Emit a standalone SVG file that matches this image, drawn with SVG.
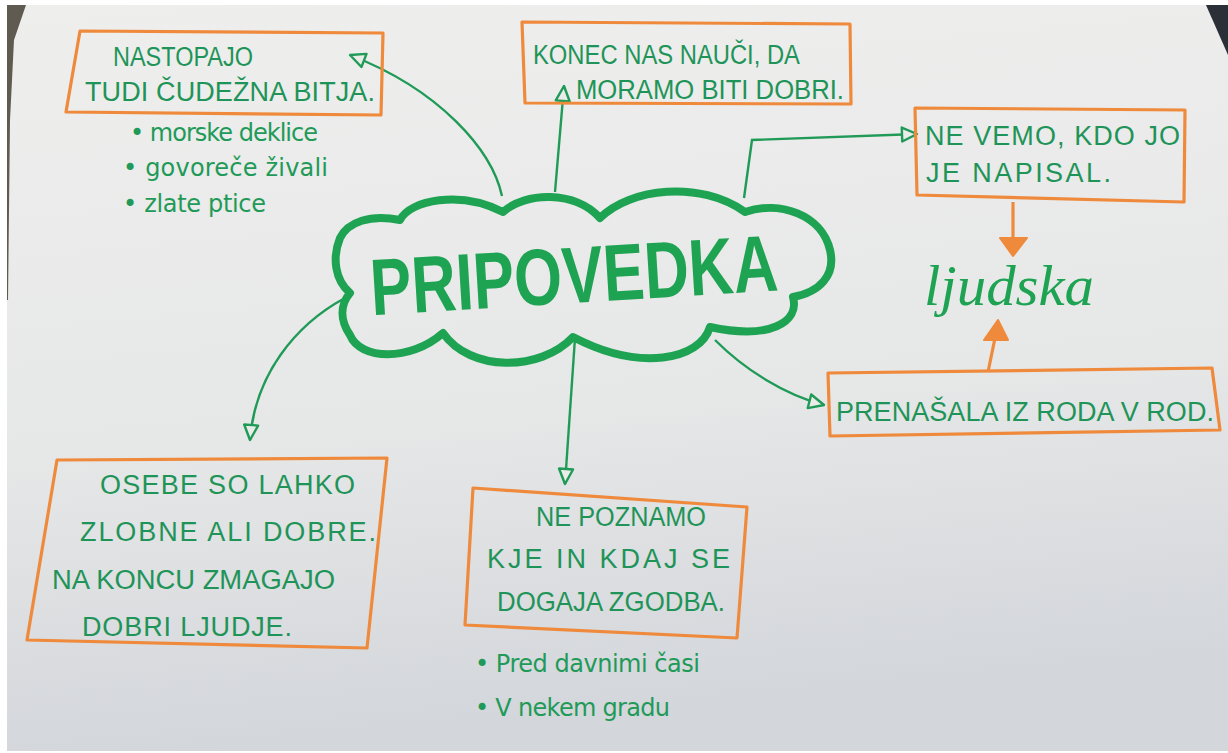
<svg xmlns="http://www.w3.org/2000/svg" width="1228" height="753" viewBox="0 0 1228 753">
<defs>
<linearGradient id="paper" x1="0" y1="0" x2="0.15" y2="1">
<stop offset="0" stop-color="#eeefed"/>
<stop offset="0.6" stop-color="#e6e7e7"/>
<stop offset="1" stop-color="#d3d6db"/>
</linearGradient>
<marker id="open" markerUnits="userSpaceOnUse" markerWidth="20" markerHeight="20" viewBox="-2 -2 20 18" refX="15" refY="7" orient="auto">
<path d="M0,0 L15,7 L0,14 Z" fill="#ebecea" stroke="#1f9a57" stroke-width="2.4" stroke-linejoin="round"/>
</marker>
<style>
.box{fill:none;stroke:#ef8a3c;stroke-width:3.2;stroke-linejoin:round}
.cap{font-family:"Liberation Sans","DejaVu Sans",sans-serif;font-size:27px;fill:#1f9458}
.low{font-family:"DejaVu Sans","Liberation Sans",sans-serif;font-size:24px;fill:#1f9a58}
.con{fill:none;stroke:#1f9a57;stroke-width:2.4;marker-end:url(#open)}
.oar{fill:none;stroke:#ef8a3c;stroke-width:3.2}
.ohead{fill:#ef8a3c;stroke:#ef8a3c;stroke-width:2;stroke-linejoin:round}
</style>
</defs>
<rect x="0" y="0" width="1228" height="753" fill="#ffffff"/>
<rect x="7" y="5" width="1221" height="746" fill="url(#paper)"/>
<polygon points="7,5 26,5 14,40 10,120 8,300 7,300" fill="#5f5b50"/>
<polygon points="1206,5 1228,5 1228,55" fill="#2a2f38"/>

<g id="connectors">
<path class="con" d="M502,196 C492,150 440,90 350,55"/>
<path class="con" d="M555,192 L564,86"/>
<path class="con" d="M744,198 L752,140 L917,134"/>
<path class="con" d="M715,340 C745,370 785,395 824,405"/>
<path class="con" d="M575,338 L565,484"/>
<path class="con" d="M345,298 C295,325 255,375 250,440"/>
<path class="oar" d="M1013,202 L1013,240"/>
<polygon class="ohead" points="1000,238 1027,238 1013,256"/>
<path class="oar" d="M988,372 L995,338"/>
<polygon class="ohead" points="984,340 1008,340 998,320"/>
</g>

<g id="center">
<path d="M350,293 C335,280 332,258 340,238 C348,222 370,214 400,220 C410,200 460,190 503,212 C525,192 575,190 600,218 C630,188 700,180 745,212 C780,200 822,215 830,250 C836,275 820,292 793,297 C800,322 770,340 710,327 C700,360 640,372 573,337 C540,372 470,372 443,333 C410,362 360,360 350,335 C340,320 340,305 350,293 Z" fill="none" stroke="#1ea353" stroke-width="8" stroke-linejoin="round"/>
<text x="370" y="303" transform="rotate(-3.5 570 275)" textLength="408" lengthAdjust="spacingAndGlyphs" style="font-family:'Liberation Sans','DejaVu Sans',sans-serif;font-size:80px;font-weight:bold;fill:#1ea353">PRIPOVEDKA</text>
</g>

<g id="n-nastopajo">
<polygon class="box" points="80,31 383,33 381,115 66,112"/>
<text class="cap" x="113" y="66" textLength="140" lengthAdjust="spacingAndGlyphs">NASTOPAJO</text>
<text class="cap" x="85" y="101" textLength="290">TUDI ČUDEŽNA BITJA.</text>
<text class="low" x="130" y="141" textLength="188">• morske deklice</text>
<text class="low" x="123" y="176" textLength="205">• govoreče živali</text>
<text class="low" x="123" y="212" textLength="143">• zlate ptice</text>
</g>

<g id="n-konec">
<polygon class="box" points="522,22 850,24 851,104 525,103"/>
<text class="cap" x="533" y="64" textLength="267" lengthAdjust="spacingAndGlyphs">KONEC NAS NAUČI, DA</text>
<text class="cap" x="576" y="99" textLength="268" lengthAdjust="spacingAndGlyphs">MORAMO BITI DOBRI.</text>
</g>

<g id="n-nevemo">
<polygon class="box" points="915,108 1185,110 1184,202 917,195"/>
<text class="cap" x="925" y="145" textLength="255">NE VEMO, KDO JO</text>
<text class="cap" x="926" y="182" textLength="185">JE NAPISAL.</text>
</g>

<g id="n-ljudska">
<text x="924" y="305" textLength="170" lengthAdjust="spacingAndGlyphs" style="font-family:'Liberation Serif','DejaVu Serif',serif;font-style:italic;font-size:56px;fill:#1ea353">ljudska</text>
</g>

<g id="n-prenasala">
<polygon class="box" points="828,373 1212,368 1220,430 830,436"/>
<text class="cap" x="836" y="421" textLength="378">PRENAŠALA IZ RODA V ROD.</text>
</g>

<g id="n-osebe">
<polygon class="box" points="57,460 387,458 367,648 27,640"/>
<text class="cap" x="100" y="494" textLength="255">OSEBE SO LAHKO</text>
<text class="cap" x="80" y="541" textLength="296">ZLOBNE ALI DOBRE.</text>
<text class="cap" x="52" y="589" textLength="283" lengthAdjust="spacingAndGlyphs">NA KONCU ZMAGAJO</text>
<text class="cap" x="82" y="636" textLength="210">DOBRI LJUDJE.</text>
</g>

<g id="n-nepoznamo">
<polygon class="box" points="473,488 747,507 737,638 465,625"/>
<text class="cap" x="536" y="526" textLength="170" lengthAdjust="spacingAndGlyphs">NE POZNAMO</text>
<text class="cap" x="487" y="568" textLength="243">KJE IN KDAJ SE</text>
<text class="cap" x="497" y="611" textLength="228" lengthAdjust="spacingAndGlyphs">DOGAJA ZGODBA.</text>
<text class="low" x="475" y="672" textLength="225">• Pred davnimi časi</text>
<text class="low" x="475" y="716" textLength="195">• V nekem gradu</text>
</g>
</svg>
